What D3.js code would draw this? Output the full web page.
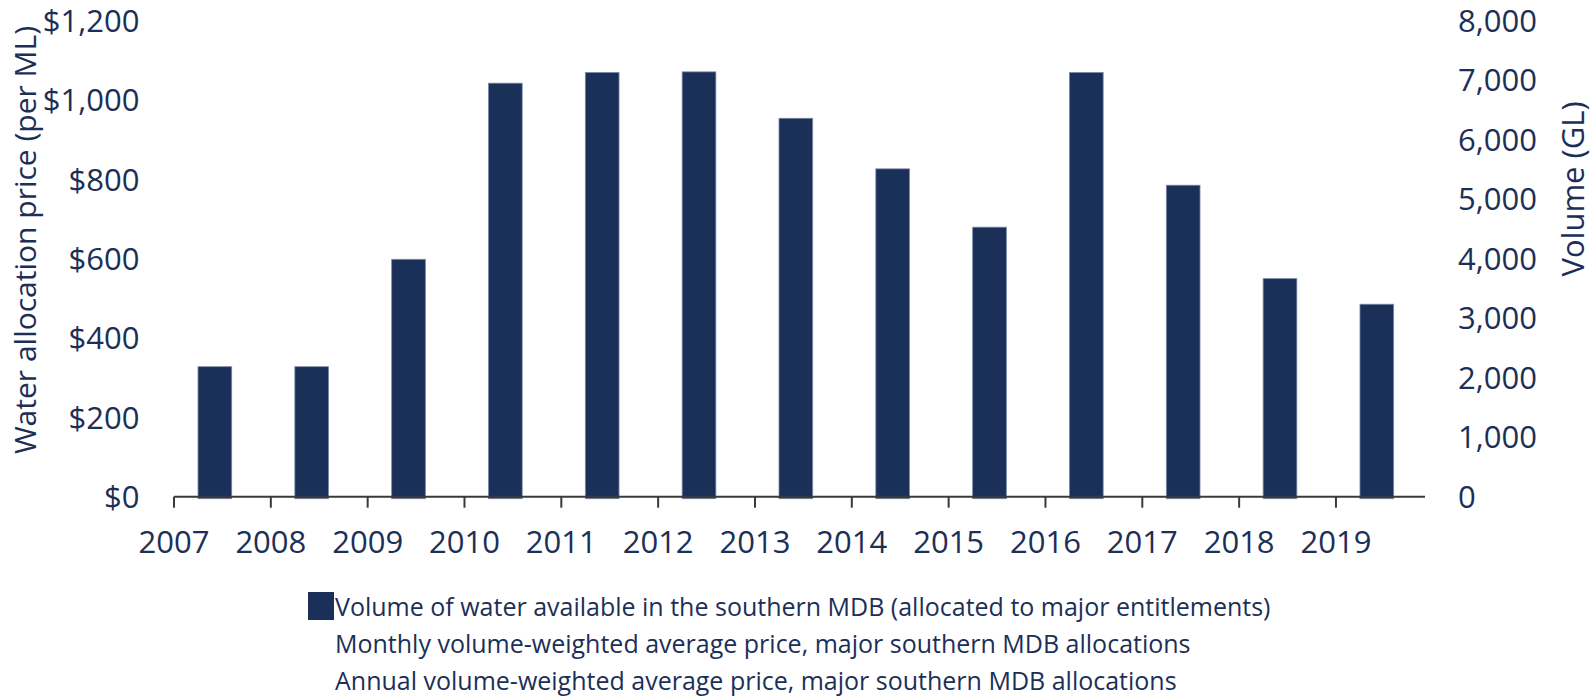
<!DOCTYPE html>
<html><head><meta charset="utf-8">
<script src="https://cdn.jsdelivr.net/npm/d3@7"></script>
<style>
body{margin:0;background:#fff}
svg text{font-family:"Open Sans",sans-serif;fill:#1c2f57}
</style>
</head><body>
<svg id="chart" width="1593" height="696"></svg>
<script>
const years = ["2007","2008","2009","2010","2011","2012","2013","2014","2015","2016","2017","2018","2019"];
const volume = [2185,2185,3990,6950,7130,7140,6360,5510,4530,7130,5235,3665,3235];
const priceTicks = [0,200,400,600,800,1000,1200];
const volumeTicks = [0,1000,2000,3000,4000,5000,6000,7000,8000];
const leftTitle = "Water allocation price (per ML)";
const rightTitle = "Volume (GL)";
const legendLabels = [
  "Volume of water available in the southern MDB (allocated to major entitlements)",
  "Monthly volume-weighted average price, major southern MDB allocations",
  "Annual volume-weighted average price, major southern MDB allocations"
];

const navy = "#1b3058";
const fs = 31;
const svg = d3.select("#chart");

const plotTop = 20.7, plotBottom = 496.7;
const x0 = 174, step = 96.83;
const x = d3.scaleBand().domain(years).range([x0, x0 + step * years.length]).padding(0);
const yPrice = d3.scaleLinear().domain([0,1200]).range([plotBottom, plotTop]);
const yVol = d3.scaleLinear().domain([0,8000]).range([plotBottom, plotTop]);

// bars
svg.append("g").selectAll("rect").data(years).join("rect")
  .attr("x", d => x(d) + x.bandwidth() * 0.248)
  .attr("width", x.bandwidth() * 0.348)
  .attr("y", (d,i) => yVol(volume[i]))
  .attr("height", (d,i) => yVol(0) - yVol(volume[i]) + 2)
  .attr("fill", navy)
  .attr("stroke", "#7a8aa6")
  .attr("stroke-width", 0.8);

// x axis line & ticks
svg.append("line")
  .attr("x1", x0).attr("x2", 1425)
  .attr("y1", plotBottom).attr("y2", plotBottom)
  .attr("stroke", "#3a3a3a").attr("stroke-width", 2);
const xt = svg.append("g").selectAll("g").data(years).join("g")
  .attr("transform", d => `translate(${x(d)},0)`);
xt.append("line").attr("y1", plotBottom).attr("y2", plotBottom + 11)
  .attr("stroke", "#3a3a3a").attr("stroke-width", 2);
xt.append("text").attr("y", 542 + 0.36*fs).attr("text-anchor","middle")
  .style("font-size", fs+"px").text(d => d);

// left axis labels
const fmtPrice = d => "$" + d3.format(",")(d);
svg.append("g").selectAll("text").data(priceTicks).join("text")
  .attr("x", 139.5).attr("y", d => yPrice(d) + 0.36*fs)
  .attr("text-anchor","end").style("font-size", fs+"px")
  .text(fmtPrice);

// right axis labels
svg.append("g").selectAll("text").data(volumeTicks).join("text")
  .attr("x", 1458).attr("y", d => yVol(d) + 0.36*fs)
  .attr("text-anchor","start").style("font-size", fs+"px")
  .text(d => d3.format(",")(d));

// axis titles
const tfs = 30;
svg.append("text")
  .attr("transform", `translate(${25 + 0.36*tfs},240) rotate(-90)`)
  .attr("text-anchor","middle").style("font-size", tfs+"px").text(leftTitle);
svg.append("text")
  .attr("transform", `translate(${1573 + 0.36*tfs},189) rotate(-90)`)
  .attr("text-anchor","middle").style("font-size", fs+"px").text(rightTitle);

// legend
const lfs = 25;
svg.append("rect").attr("x", 308).attr("y", 592).attr("width", 26).attr("height", 28).attr("fill", navy);
svg.append("g").selectAll("text").data(legendLabels).join("text")
  .attr("x", 335).attr("y", (d,i) => 607 + i*37 + 0.36*lfs)
  .style("font-size", lfs+"px").text(d => d);
</script>
</body></html>
